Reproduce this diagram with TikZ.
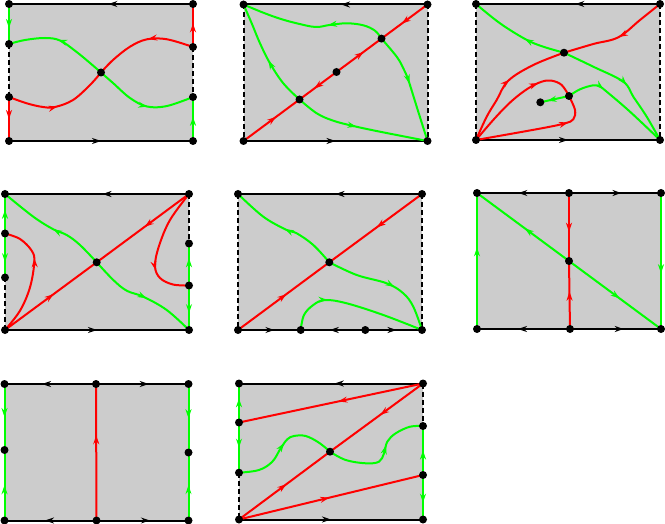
\documentclass[tikz,border=0pt]{standalone}
\usetikzlibrary{arrows.meta,decorations.markings}
\pgfdeclarelayer{bg}
\pgfsetlayers{bg,main}
\definecolor{mygray}{RGB}{204,204,204}
\definecolor{myred}{RGB}{255,0,0}
\definecolor{mygreen}{RGB}{0,255,0}
\tikzset{
  dot/.style={circle,fill=black,inner sep=0pt,minimum size=8pt},
  ek/.style={line width=2pt,black},
  dk/.style={line width=2pt,black,dash pattern=on 5pt off 3pt},
  rd/.style={line width=2pt,myred},
  gn/.style={line width=2pt,mygreen},
  ar/.style={postaction={decorate},decoration={markings,mark=at position #1 with {\arrow{Stealth[length=9pt,width=6pt]}}}},
  pane/.style={fill=mygray},
  sm/.style={smooth,tension=0.6}
}
\begin{document}
\begin{tikzpicture}[x=1pt,y=-1pt]
\useasboundingbox (0,0) rectangle (665,524);
% ---------------- panel 1
\begin{scope}[shift={(9,4)}]
\node[dot] (a1) at (0,0) {};
\node[dot] (a2) at (184,0) {};
\node[dot] (a3) at (0,137) {};
\node[dot] (a4) at (184,137) {};
\node[dot] (a5) at (92,68.5) {};
\node[dot] (a6) at (0,40) {};
\node[dot] (a7) at (0,93) {};
\node[dot] (a8) at (184,43) {};
\node[dot] (a9) at (184,93) {};
\begin{pgfonlayer}{bg}
\fill[pane] (a1.center) rectangle (a4.center);
\draw[ek,ar=0.46] (a2.center) -- (a1.center);
\draw[ek,ar=0.5] (a3.center) -- (a4.center);
\draw[gn,ar=0.6] (a1.center) -- (a6.center);
\draw[dk] (a6.center) -- (a7.center);
\draw[rd,ar=0.5] (a7.center) -- (a3.center);
\draw[rd,ar=0.55] (a8.center) -- (a2.center);
\draw[dk] (a8.center) -- (a9.center);
\draw[gn,ar=0.55] (a4.center) -- (a9.center);
\draw[gn,ar=0.52] plot[sm] coordinates {(a5.center) (81,59) (67,47.5) (51,36.5) (36,34) (16,36) (a6.center)};
\draw[gn,ar=0.55] plot[sm] coordinates {(a5.center) (104,79) (121,94) (138,102.5) (158,102) (a9.center)};
\draw[rd,ar=0.47] plot[sm] coordinates {(a7.center) (17.7,99.3) (34,103) (46,103) (64,96) (81,81) (a5.center)};
\draw[rd,ar=0.44] plot[sm] coordinates {(a8.center) (158,35.3) (138,35.3) (121,42.7) (104,56) (a5.center)};
\end{pgfonlayer}
\end{scope}
% ---------------- panel 2
\begin{scope}[shift={(243.5,4.5)}]
\node[dot] (b1) at (0,0) {};
\node[dot] (b2) at (184,0) {};
\node[dot] (b3) at (0,136.5) {};
\node[dot] (b4) at (184,136.5) {};
\node[dot] (b5) at (56,95) {};
\node[dot] (b6) at (93,67.5) {};
\node[dot] (b7) at (138,34.1) {};
\begin{pgfonlayer}{bg}
\fill[pane] (b1.center) rectangle (b4.center);
\draw[ek,ar=0.47] (b2.center) -- (b1.center);
\draw[ek,ar=0.5] (b3.center) -- (b4.center);
\draw[dk] (b1.center) -- (b3.center);
\draw[dk] (b2.center) -- (b4.center);
\draw[rd,ar=0.58] (b3.center) -- (b5.center);
\draw[rd,ar=0.6] (b6.center) -- (b5.center);
\draw[rd,ar=0.6] (b6.center) -- (b7.center);
\draw[rd,ar=0.56] (b2.center) -- (b7.center);
\draw[gn,ar=0.45] plot[sm] coordinates {(b5.center) (39.8,78.8) (26.5,58.8) (16.5,38.8) (8.2,18.8) (b1.center)};
\draw[gn,ar=0.47] plot[sm] coordinates {(b5.center) (73.2,108.8) (89.8,116.2) (109.8,121.5) (136.5,127.2) (b4.center)};
\draw[gn,ar=0.4] plot[sm] coordinates {(b7.center) (131.5,26.2) (119.8,20.8) (103.2,18.8) (86,20.5) (72,22.5) (53.2,18.8) (36.5,14.2) (19.8,8.2) (b1.center)};
\draw[gn,ar=0.47] plot[sm] coordinates {(b7.center) (153.2,52.2) (159.8,63.8) (164.8,75.5) (173.2,102.2) (b4.center)};
\end{pgfonlayer}
\end{scope}
% ---------------- panel 3
\begin{scope}[shift={(476,4)}]
\node[dot] (c1) at (0,0) {};
\node[dot] (c2) at (184,0) {};
\node[dot] (c3) at (0,136) {};
\node[dot] (c4) at (184,136) {};
\node[dot] (c5) at (88,48.7) {};
\node[dot] (c6) at (93,92) {};
\node[dot] (c7) at (64.3,98.3) {};
\begin{pgfonlayer}{bg}
\fill[pane] (c1.center) rectangle (c4.center);
\draw[ek,ar=0.46] (c2.center) -- (c1.center);
\draw[ek,ar=0.5] (c3.center) -- (c4.center);
\draw[dk] (c1.center) -- (c3.center);
\draw[dk] (c2.center) -- (c4.center);
\draw[gn,ar=0.41] plot[sm] coordinates {(c5.center) (67.3,42.7) (50,35.5) (24,19.3) (c1.center)};
\draw[gn,ar=0.52] plot[sm] coordinates {(c5.center) (117.3,62.7) (147.3,77.7) (157.3,92.7) (170.7,112.7) (c4.center)};
\draw[rd,ar=0.48] plot[sm] coordinates {(c2.center) (164,16) (142.3,33.3) (117.3,40) (c5.center)};
\draw[rd,ar=0.53] plot[sm] coordinates {(c3.center) (10.7,112.7) (20.7,96) (32.3,76.7) (57.3,61) (c5.center)};
\draw[rd,ar=0.69] plot[sm] coordinates {(c3.center) (19,114) (35.7,97) (52.3,84.3) (65.7,77.7) (75.7,76.7) (85.7,81) (c6.center)};
\draw[rd,ar=0.75] plot[sm] coordinates {(c3.center) (65.7,124.3) (89,119.3) (97.3,115.3) (99,106) (c6.center)};
\draw[gn,ar=0.75] (c6.center) -- (c7.center);
\draw[gn,ar=0.33] plot[sm] coordinates {(c6.center) (104,85.3) (117.3,81.3) (124,82.7) (130.7,87.7) (154,107.7) (c4.center)};
\end{pgfonlayer}
\end{scope}
% ---------------- panel 4
\begin{scope}[shift={(5,194)}]
\node[dot] (d1) at (0,0) {};
\node[dot] (d2) at (184,0) {};
\node[dot] (d3) at (0,136) {};
\node[dot] (d4) at (184,136) {};
\node[dot] (d5) at (91.7,68.3) {};
\node[dot] (d6) at (0,39.5) {};
\node[dot] (d7) at (0,83.5) {};
\node[dot] (d8) at (184,49.5) {};
\node[dot] (d9) at (184,91.5) {};
\begin{pgfonlayer}{bg}
\fill[pane] (d1.center) rectangle (d4.center);
\draw[ek,ar=0.47] (d2.center) -- (d1.center);
\draw[ek,ar=0.5] (d3.center) -- (d4.center);
\draw[gn,ar=0.6] (d6.center) -- (d1.center);
\draw[gn,ar=0.65] (d6.center) -- (d7.center);
\draw[dk] (d7.center) -- (d3.center);
\draw[dk] (d2.center) -- (d8.center);
\draw[gn,ar=0.65] (d9.center) -- (d8.center);
\draw[gn,ar=0.62] (d9.center) -- (d4.center);
\draw[rd,ar=0.53] (d3.center) -- (d5.center);
\draw[rd,ar=0.48] (d2.center) -- (d5.center);
\draw[gn,ar=0.48] plot[sm] coordinates {(d5.center) (75,51) (61.7,41) (48.3,35.3) (28.3,22.7) (d1.center)};
\draw[gn,ar=0.54] plot[sm] coordinates {(d5.center) (108.3,86) (121.7,96.7) (138.3,102.7) (161.7,116) (d4.center)};
\draw[rd,ar=0.66] plot[sm] coordinates {(d3.center) (15,116.7) (25,93.3) (29.3,68) (26.7,56.7) (15,45) (d6.center)};
\draw[rd,ar=0.68] plot[sm] coordinates {(d2.center) (165,26) (154,52) (150,72) (155,84) (168,90.5) (d9.center)};
\end{pgfonlayer}
\end{scope}
% ---------------- panel 5
\begin{scope}[shift={(238,194)}]
\node[dot] (e1) at (0,0) {};
\node[dot] (e2) at (184,0) {};
\node[dot] (e3) at (0,136) {};
\node[dot] (e4) at (184,136) {};
\node[dot] (e5) at (91.3,68.3) {};
\node[dot] (e6) at (62.7,136) {};
\node[dot] (e7) at (127.3,136) {};
\begin{pgfonlayer}{bg}
\fill[pane] (e1.center) rectangle (e4.center);
\draw[ek,ar=0.47] (e2.center) -- (e1.center);
\draw[ek,ar=0.58] (e3.center) -- (e6.center);
\draw[ek,ar=0.55] (e7.center) -- (e6.center);
\draw[ek,ar=0.55] (e7.center) -- (e4.center);
\draw[dk] (e1.center) -- (e3.center);
\draw[dk] (e2.center) -- (e4.center);
\draw[rd,ar=0.53] (e3.center) -- (e5.center);
\draw[rd,ar=0.49] (e2.center) -- (e5.center);
\draw[gn,ar=0.49] plot[sm] coordinates {(e5.center) (75.3,51) (58.7,39.3) (48.7,36) (25.3,22.7) (e1.center)};
\draw[gn,ar=0.57] plot[sm] coordinates {(e5.center) (118.7,81) (148.7,89.3) (165.3,99.3) (175.3,112.7) (e4.center)};
\draw[gn,ar=0.31] plot[sm] coordinates {(e6.center) (66,121) (75.3,111) (87,106) (108.7,109.3) (145.3,121) (e4.center)};
\end{pgfonlayer}
\end{scope}
% ---------------- panel 6
\begin{scope}[shift={(477,193)}]
\node[dot] (f1) at (0,0) {};
\node[dot] (f2) at (184,0) {};
\node[dot] (f3) at (0,136) {};
\node[dot] (f4) at (184,136) {};
\node[dot] (f5) at (92,0) {};
\node[dot] (f6) at (93,136) {};
\node[dot] (f7) at (92,68) {};
\begin{pgfonlayer}{bg}
\fill[pane] (f1.center) rectangle (f4.center);
\draw[ek,ar=0.55] (f5.center) -- (f1.center);
\draw[ek,ar=0.57] (f5.center) -- (f2.center);
\draw[ek,ar=0.56] (f6.center) -- (f3.center);
\draw[ek,ar=0.59] (f6.center) -- (f4.center);
\draw[gn,ar=0.6] (f3.center) -- (f1.center);
\draw[gn,ar=0.59] (f2.center) -- (f4.center);
\draw[rd,ar=0.57] (f5.center) -- (f7.center);
\draw[rd,ar=0.55] (f6.center) -- (f7.center);
\draw[gn,ar=0.48] (f7.center) -- (f1.center);
\draw[gn,ar=0.55] (f7.center) -- (f4.center);
\end{pgfonlayer}
\end{scope}
% ---------------- panel 7
\begin{scope}[shift={(4.5,384)}]
\node[dot] (g1) at (0,0) {};
\node[dot] (g2) at (184,0) {};
\node[dot] (g3) at (0,136.5) {};
\node[dot] (g4) at (184,136.5) {};
\node[dot] (g5) at (91.5,0) {};
\node[dot] (g6) at (92,136.5) {};
\node[dot] (g7) at (0,66) {};
\node[dot] (g8) at (184,68.5) {};
\begin{pgfonlayer}{bg}
\fill[pane] (g1.center) rectangle (g4.center);
\draw[ek,ar=0.59] (g5.center) -- (g1.center);
\draw[ek,ar=0.57] (g5.center) -- (g2.center);
\draw[ek,ar=0.56] (g6.center) -- (g3.center);
\draw[ek,ar=0.58] (g6.center) -- (g4.center);
\draw[gn,ar=0.5] (g1.center) -- (g7.center);
\draw[gn,ar=0.5] (g3.center) -- (g7.center);
\draw[gn,ar=0.5] (g2.center) -- (g8.center);
\draw[gn,ar=0.52] (g4.center) -- (g8.center);
\draw[rd,ar=0.625] (g6.center) -- (g5.center);
\end{pgfonlayer}
\end{scope}
% ---------------- panel 8
\begin{scope}[shift={(239,383.5)}]
\node[dot] (h1) at (0,0) {};
\node[dot] (h2) at (184,0) {};
\node[dot] (h3) at (0,136) {};
\node[dot] (h4) at (184,136) {};
\node[dot] (h5) at (0,39) {};
\node[dot] (h6) at (0,89.2) {};
\node[dot] (h7) at (184,42.5) {};
\node[dot] (h8) at (184,91.5) {};
\node[dot] (h9) at (91,68.2) {};
\begin{pgfonlayer}{bg}
\fill[pane] (h1.center) rectangle (h4.center);
\draw[ek,ar=0.48] (h2.center) -- (h1.center);
\draw[ek,ar=0.5] (h3.center) -- (h4.center);
\draw[gn,ar=0.62] (h5.center) -- (h1.center);
\draw[gn,ar=0.5] (h5.center) -- (h6.center);
\draw[dk] (h6.center) -- (h3.center);
\draw[dk] (h2.center) -- (h7.center);
\draw[gn,ar=0.5] (h8.center) -- (h7.center);
\draw[gn,ar=0.62] (h8.center) -- (h4.center);
\draw[rd,ar=0.52] (h3.center) -- (h9.center);
\draw[rd,ar=0.46] (h2.center) -- (h9.center);
\draw[rd,ar=0.46] (h2.center) -- (h5.center);
\draw[rd,ar=0.49] (h3.center) -- (h8.center);
\draw[gn,ar=0.52] plot[sm] coordinates {(h6.center) (20,86.5) (33.3,78.2) (41.7,64.8) (48.3,55.8) (55,52.5) (66.7,52.5) (80,59.2) (h9.center)};
\draw[gn,ar=0.61] plot[sm] coordinates {(h9.center) (106.7,76.5) (126.7,79.8) (140,78.2) (145,69.8) (148.3,58.2) (156.7,49.8) (171,43.2) (h7.center)};
\end{pgfonlayer}
\end{scope}
\end{tikzpicture}
\end{document}
